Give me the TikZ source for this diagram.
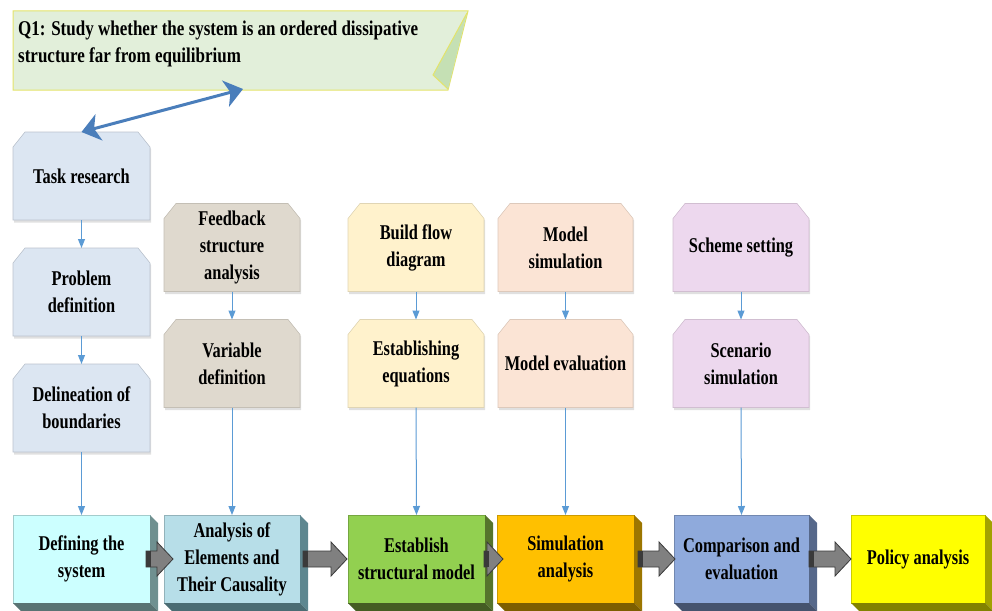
\documentclass[tikz,border=0pt]{standalone}
\usepackage{fontspec}
\newfontfamily\tnr[FakeStretch=0.78]{Liberation Serif}
\newfontfamily\tnrb[FakeStretch=0.81]{Liberation Serif}
\usetikzlibrary{calc,arrows.meta,backgrounds}
\pgfdeclarelayer{bottom}
\pgfsetlayers{bottom,background,main}
\definecolor{bannerfill}{HTML}{E2EFDA}
\definecolor{bannerdraw}{HTML}{E4E46A}
\definecolor{bannerfold}{HTML}{C5E0B4}
\definecolor{dblue}{HTML}{4A7EBB}
\definecolor{lblue}{HTML}{5B9BD5}
\definecolor{cblue}{HTML}{DCE6F2}
\definecolor{cbeige}{HTML}{DFD9CE}
\definecolor{cyel}{HTML}{FFF2CC}
\definecolor{cpeach}{HTML}{FBE4D5}
\definecolor{clilac}{HTML}{EDD8EE}
\definecolor{fcyan}{HTML}{CCFFFF}
\definecolor{fteal}{HTML}{B7DEE8}
\definecolor{fgreen}{HTML}{92D050}
\definecolor{forange}{HTML}{FFC000}
\definecolor{fblue}{HTML}{8FAADC}
\definecolor{fyellow}{HTML}{FFFF00}
\definecolor{scyan}{HTML}{6F9090}
\definecolor{steal}{HTML}{5E8790}
\definecolor{sgreen}{HTML}{56742C}
\definecolor{sorange}{HTML}{9C7600}
\definecolor{sblue}{HTML}{56688A}
\definecolor{syellow}{HTML}{A2A200}
\definecolor{garrow}{HTML}{808080}
\definecolor{garrowd}{HTML}{3A3A3A}
\newcommand\threeD[2]{%
  \fill[#2] (#1.north east) -- ++(8,8) -- ($(#1.south east)+(8,8)$) -- (#1.south east) -- cycle;
  \fill[#2!80!black] (#1.south west) -- (#1.south east) -- ($(#1.south east)+(8,8)$) -- ($(#1.south west)+(8,8)$) -- cycle;
}
\newcommand\chamf[3]{%
  \fill[black, opacity=0.12] ($(#1.north west)+(1,17)$) -- ($(#1.north west)+(13,2)$) -- ($(#1.north east)+(-11,2)$) -- ($(#1.north east)+(1,17)$) -- ($(#1.south east)+(1,2.5)$) -- ($(#1.south west)+(1,2.5)$) -- cycle;
  \draw[fill=#2, draw=#3, line width=0.6pt] ($(#1.north west)+(0,15)$) -- ($(#1.north west)+(12,0)$) -- ($(#1.north east)+(-12,0)$) -- ($(#1.north east)+(0,15)$) -- (#1.south east) -- (#1.south west) -- cycle;
}
\newcommand\garr[2]{%
  \path let \p1=(#1), \p2=(#2) in
    [fill=garrow, draw=garrowd, line width=0.8pt]
    (\x1,\y1+8pt) -- (\x2-16pt,\y1+8pt) -- (\x2-16pt,\y1+17pt) -- (\x2,\y1) --
    (\x2-16pt,\y1-17pt) -- (\x2-16pt,\y1-8pt) -- (\x1,\y1-8pt) -- cycle;
  \path let \p1=(#1) in [fill=garrowd] (\x1,\y1-8pt) rectangle (\x1+5pt,\y1+8pt);
}
\begin{document}
\begin{tikzpicture}[x=1pt,y=-1pt,
  txt/.style={font=\tnr\bfseries\fontsize{21}{27}\selectfont, align=center, text=black},
  chbox/.style={txt, rectangle, minimum width=136pt, minimum height=88pt, inner sep=0pt, outer sep=0pt},
  mainbox/.style={txt, rectangle, minimum width=136pt, minimum height=88pt, inner sep=0pt, outer sep=0pt,
    line width=0.6pt},
  thin/.style={lblue, line width=1pt, -{Triangle[length=9pt,width=7pt]}},
]
\begin{pgfonlayer}{bottom}
\fill[white] (0,0) rectangle (992,610);
\end{pgfonlayer}
\useasboundingbox (0,0) rectangle (992,610);

% banner
\draw[fill=bannerfill, draw=bannerdraw, line width=1pt] (13,11) -- (468,11) -- (448,90) -- (13,90) -- cycle;
\fill[bannerfold] (467,13) -- (433,75) -- (448,89) -- cycle;
\draw[bannerdraw, line width=1pt] (467,13) -- (433,75) -- (448,89);
\node[anchor=north west, font=\tnrb\bfseries\fontsize{21}{27}\selectfont, align=left, inner sep=0pt] (q1) at (18,21)
  {Q1: Study whether the system is an ordered dissipative\\structure far from equilibrium};
\coordinate (q1tip) at (243,89);

% upper boxes
\node[chbox, minimum width=137pt] (task) at (81.5,176) {Task research};
\node[chbox, minimum width=137pt] (prob) at (81.5,292) {Problem\\definition};
\node[chbox, minimum width=137pt] (delin) at (81.5,408) {Delineation of\\boundaries};
\node[chbox] (feed) at (232,247.5) {Feedback\\structure\\analysis};
\node[chbox] (var) at (232,363.5) {Variable\\definition};
\node[chbox] (flow) at (416,247.5) {Build flow\\diagram};
\node[chbox] (eq) at (416,363.5) {Establishing\\equations};
\node[chbox, minimum width=135pt] (msim) at (565.5,247.5) {Model\\simulation};
\node[chbox, minimum width=135pt] (meval) at (565.5,363.5) {Model evaluation};
\node[chbox] (scheme) at (741,247.5) {Scheme setting};
\node[chbox] (scen) at (741,363.5) {Scenario\\simulation};
\begin{pgfonlayer}{background}
\chamf{task}{cblue}{cblue!85!black}
\chamf{prob}{cblue}{cblue!85!black}
\chamf{delin}{cblue}{cblue!85!black}
\chamf{feed}{cbeige}{cbeige!88!black}
\chamf{var}{cbeige}{cbeige!88!black}
\chamf{flow}{cyel}{cyel!88!black}
\chamf{eq}{cyel}{cyel!88!black}
\chamf{msim}{cpeach}{cpeach!88!black}
\chamf{meval}{cpeach}{cpeach!88!black}
\chamf{scheme}{clilac}{clilac!88!black}
\chamf{scen}{clilac}{clilac!88!black}
\end{pgfonlayer}

% bottom boxes
\node[mainbox, fill=fcyan, draw=fcyan!80!black, minimum width=137pt] (def) at (81.5,559) {Defining the\\system};
\node[mainbox, fill=fteal, draw=fteal!80!black] (ana) at (232,559) {Analysis of\\Elements and\\Their Causality};
\node[mainbox, fill=fgreen, draw=fgreen!80!black, minimum width=137pt] (est) at (416.5,559) {Establish\\structural model};
\node[mainbox, fill=forange, draw=forange!80!black, minimum width=137pt] (sim) at (565.5,559) {Simulation\\analysis};
\node[mainbox, fill=fblue, draw=fblue!80!black, minimum width=135pt] (cmp) at (741.5,559) {Comparison and\\evaluation};
\node[mainbox, fill=fyellow, draw=fyellow!80!black, minimum width=134pt] (pol) at (918,559) {Policy analysis};
\threeD{def}{scyan}
\threeD{ana}{steal}
\threeD{est}{sgreen}
\threeD{sim}{sorange}
\threeD{cmp}{sblue}
\threeD{pol}{syellow}

% thin connectors
\draw[thin] (task.south) -- (prob.north);
\draw[thin] (prob.south) -- (delin.north);
\draw[thin] (delin.south) -- (def.north);
\draw[thin] (feed.south) -- (var.north);
\draw[thin] (var.south) -- (ana.north);
\draw[thin] (flow.south) -- (eq.north);
\draw[thin] (eq.south) -- (est.north);
\draw[thin] (msim.south) -- (meval.north);
\draw[thin] (meval.south) -- (sim.north);
\draw[thin] (scheme.south) -- (scen.north);
\draw[thin] (scen.south) -- (cmp.north);

% double arrow
\draw[dblue, line width=3pt, {Stealth[length=18pt,width=27pt,inset=5pt]}-{Stealth[length=18pt,width=27pt,inset=5pt]}]
  (task.north) -- (q1tip);

% block arrows
\garr{$(def.east)+(-4,0)$}{$(ana.west)+(9,0)$}
\garr{$(ana.east)+(3,0)$}{$(est.west)+(-1,0)$}
\garr{$(est.east)+(-1,0)$}{$(sim.west)+(6,0)$}
\garr{$(sim.east)+(4,0)$}{$(cmp.west)+(1,0)$}
\garr{$(cmp.east)+(0,0)$}{$(pol.west)+(0,0)$}
\end{tikzpicture}
\end{document}
